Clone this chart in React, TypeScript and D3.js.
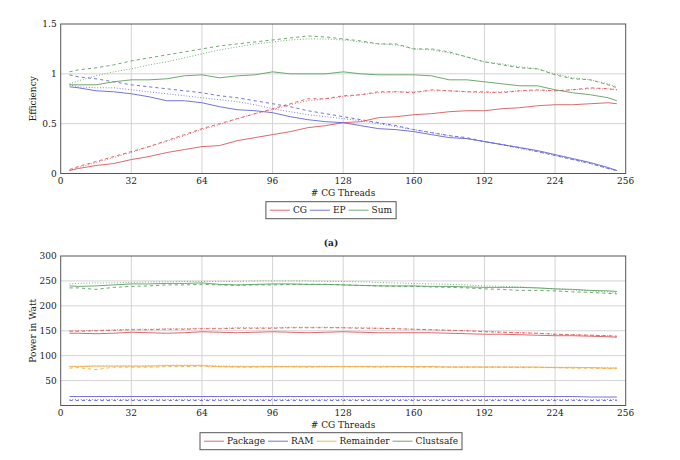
import { useRef, useEffect } from 'react';
import * as d3 from 'd3';

// thread counts sampled on both panels
const threads = [4, 8, 16, 24, 32, 40, 48, 56, 64, 72, 80, 88, 96, 104, 112, 120, 128, 136, 144, 152, 160, 168, 176, 184, 192, 200, 208, 216, 224, 232, 240, 248, 252];
const xTicks = [0, 32, 64, 96, 128, 160, 192, 224, 256];

// (a) efficiency
const cgSolid = [0.03, 0.05, 0.08, 0.10, 0.14, 0.17, 0.21, 0.24, 0.27, 0.28, 0.33, 0.36, 0.39, 0.42, 0.46, 0.48, 0.51, 0.52, 0.56, 0.57, 0.59, 0.60, 0.62, 0.63, 0.63, 0.65, 0.66, 0.68, 0.69, 0.69, 0.70, 0.71, 0.70];
const cgDashed = [0.04, 0.07, 0.12, 0.17, 0.22, 0.27, 0.33, 0.39, 0.45, 0.50, 0.55, 0.60, 0.65, 0.70, 0.75, 0.75, 0.78, 0.79, 0.82, 0.82, 0.81, 0.84, 0.83, 0.82, 0.82, 0.81, 0.83, 0.84, 0.83, 0.84, 0.86, 0.85, 0.84];
const cgDotted = [0.03, 0.06, 0.11, 0.16, 0.21, 0.27, 0.32, 0.38, 0.44, 0.49, 0.55, 0.60, 0.64, 0.69, 0.73, 0.75, 0.77, 0.79, 0.81, 0.82, 0.82, 0.83, 0.83, 0.82, 0.81, 0.82, 0.83, 0.83, 0.83, 0.84, 0.85, 0.85, 0.84];
const epSolid = [0.87, 0.86, 0.83, 0.82, 0.80, 0.77, 0.73, 0.73, 0.71, 0.67, 0.64, 0.63, 0.61, 0.57, 0.54, 0.52, 0.51, 0.48, 0.45, 0.44, 0.42, 0.39, 0.36, 0.35, 0.32, 0.29, 0.26, 0.23, 0.19, 0.15, 0.11, 0.06, 0.03];
const epDashed = [0.99, 0.97, 0.95, 0.92, 0.89, 0.87, 0.85, 0.83, 0.81, 0.78, 0.76, 0.73, 0.70, 0.67, 0.63, 0.60, 0.57, 0.54, 0.51, 0.48, 0.44, 0.41, 0.38, 0.36, 0.32, 0.29, 0.26, 0.22, 0.18, 0.14, 0.10, 0.05, 0.03];
const epDotted = [0.89, 0.87, 0.86, 0.86, 0.84, 0.82, 0.80, 0.78, 0.76, 0.74, 0.72, 0.69, 0.65, 0.62, 0.59, 0.57, 0.55, 0.53, 0.50, 0.47, 0.44, 0.41, 0.38, 0.35, 0.32, 0.29, 0.25, 0.22, 0.18, 0.14, 0.10, 0.05, 0.03];
const sumSolid = [0.89, 0.89, 0.89, 0.92, 0.94, 0.94, 0.95, 0.98, 0.99, 0.96, 0.98, 0.99, 1.02, 1.00, 1.00, 1.00, 1.02, 1.00, 0.99, 0.99, 0.99, 0.98, 0.94, 0.94, 0.92, 0.90, 0.88, 0.88, 0.84, 0.81, 0.79, 0.76, 0.73];
const sumDashed = [1.02, 1.04, 1.06, 1.09, 1.13, 1.16, 1.19, 1.22, 1.25, 1.28, 1.30, 1.32, 1.34, 1.36, 1.38, 1.37, 1.35, 1.33, 1.30, 1.30, 1.25, 1.25, 1.22, 1.17, 1.12, 1.09, 1.06, 1.05, 0.99, 0.95, 0.94, 0.89, 0.86];
const sumDotted = [0.90, 0.93, 0.98, 1.02, 1.05, 1.09, 1.12, 1.16, 1.20, 1.24, 1.27, 1.30, 1.32, 1.34, 1.35, 1.35, 1.34, 1.32, 1.30, 1.29, 1.25, 1.24, 1.21, 1.17, 1.12, 1.10, 1.07, 1.05, 1.00, 0.96, 0.94, 0.90, 0.87];

// (b) power in watt
const pkgSolid = [145, 145, 144, 145, 147, 146, 145, 146, 148, 147, 146, 147, 148, 147, 146, 147, 148, 147, 146, 146, 146, 146, 145, 144, 143, 143, 142, 141, 140, 140, 139, 138, 137];
const pkgDashed = [149, 149, 150, 151, 152, 152, 153, 153, 154, 154, 155, 155, 155, 156, 156, 156, 156, 155, 155, 154, 153, 152, 151, 150, 148, 147, 146, 145, 143, 142, 141, 140, 139];
const pkgDotted = [150, 150, 151, 152, 153, 153, 154, 154, 155, 155, 156, 156, 156, 157, 157, 157, 156, 156, 155, 154, 153, 152, 151, 150, 149, 147, 146, 145, 143, 142, 141, 140, 139];
const ramSolid = [18, 18, 18, 18, 18, 18, 18, 18, 18, 18, 18, 18, 18, 18, 18, 18, 18, 18, 18, 18, 18, 18, 18, 18, 18, 18, 18, 18, 18, 18, 17, 17, 17];
const ramDashed = [10, 10, 10, 10, 10, 10, 10, 10, 10, 10, 10, 10, 10, 10, 10, 10, 10, 10, 10, 10, 10, 10, 10, 10, 10, 10, 10, 10, 10, 10, 10, 10, 10];
const ramDotted = [12, 12, 12, 12, 12, 12, 12, 12, 12, 12, 12, 12, 12, 12, 12, 12, 12, 12, 12, 12, 12, 12, 12, 12, 12, 12, 12, 12, 12, 12, 12, 12, 12];
const remSolid = [78, 78, 79, 79, 79, 79, 80, 80, 80, 78, 78, 78, 78, 78, 78, 78, 78, 78, 78, 78, 78, 78, 77, 77, 77, 77, 77, 77, 76, 76, 76, 75, 75];
const remDashed = [75, 76, 72, 77, 77, 77, 78, 78, 79, 78, 77, 77, 78, 78, 77, 78, 78, 78, 77, 78, 77, 77, 77, 77, 77, 77, 76, 76, 76, 75, 75, 74, 74];
const remDotted = [79, 79, 80, 80, 80, 80, 81, 81, 81, 80, 79, 79, 79, 79, 79, 79, 79, 79, 79, 79, 78, 78, 78, 78, 78, 78, 78, 77, 77, 77, 76, 76, 76];
const csSolid = [240, 239, 240, 242, 244, 244, 245, 245, 246, 243, 242, 243, 244, 244, 243, 243, 242, 241, 240, 240, 240, 239, 239, 238, 237, 237, 237, 236, 234, 233, 231, 230, 229];
const csDashed = [236, 236, 233, 237, 239, 240, 242, 242, 243, 242, 241, 242, 242, 243, 243, 243, 242, 241, 240, 239, 239, 238, 237, 236, 234, 233, 231, 231, 230, 228, 227, 225, 224];
const csDotted = [244, 245, 246, 246, 247, 248, 248, 249, 249, 249, 249, 250, 250, 250, 250, 249, 249, 248, 247, 246, 245, 244, 243, 242, 240, 239, 238, 236, 234, 232, 230, 228, 226];

const effTicks = [0, 0.5, 1, 1.5];
const powerTicks = [50, 100, 150, 200, 250, 300];

const RED = '#d8595e';
const BLUE = '#6464d2';
const ORANGE = '#f2ac48';
const GREEN = '#5e9f62';
const DASH = '3.2,3';
const DOT = '0.9,1.9';
const FONT = "'DejaVu Serif', serif";
const FS = '9px';

const effSeries = [
  { name: 'CG', color: RED, sets: [cgSolid, cgDashed, cgDotted] },
  { name: 'EP', color: BLUE, sets: [epSolid, epDashed, epDotted] },
  { name: 'Sum', color: GREEN, sets: [sumSolid, sumDashed, sumDotted] },
];
const powerSeries = [
  { name: 'Package', color: RED, sets: [pkgSolid, pkgDashed, pkgDotted] },
  { name: 'RAM', color: BLUE, sets: [ramSolid, ramDashed, ramDotted] },
  { name: 'Remainder', color: ORANGE, sets: [remSolid, remDashed, remDotted] },
  { name: 'Clustsafe', color: GREEN, sets: [csSolid, csDashed, csDotted] },
];

const App = () => {
  const svgRef = useRef(null);

  function drawPanel(svg, cfg) {
    const { top, bottom, yDomain, yTicks, series, yLabel, legendTop } = cfg;
    const left = 60.7, right = 625.7;
    const x = d3.scaleLinear().domain([0, 256]).range([left, right]);
    const y = d3.scaleLinear().domain(yDomain).range([bottom, top]);
    const g = svg.append('g');

    // grid
    g.append('g').selectAll('line').data(xTicks.slice(1, -1)).join('line')
      .attr('x1', d => x(d)).attr('x2', d => x(d)).attr('y1', top).attr('y2', bottom)
      .attr('stroke', '#d4d4d4').attr('stroke-width', 1);
    g.append('g').selectAll('line').data(yTicks.filter(t => t > yDomain[0] && t < yDomain[1])).join('line')
      .attr('x1', left).attr('x2', right).attr('y1', d => y(d)).attr('y2', d => y(d))
      .attr('stroke', '#d4d4d4').attr('stroke-width', 1);

    // lines: dotted, dashed, solid
    const line = d3.line().x((_, i) => x(threads[i])).y(d => y(d));
    const dashes = [null, DASH, DOT];
    [2, 1, 0].forEach(k => {
      series.forEach(s => {
        g.append('path').datum(s.sets[k]).attr('d', line)
          .attr('fill', 'none').attr('stroke', s.color).attr('stroke-width', 0.9)
          .attr('stroke-dasharray', dashes[k]);
      });
    });

    // frame
    g.append('rect').attr('x', left).attr('y', top).attr('width', right - left).attr('height', bottom - top)
      .attr('fill', 'none').attr('stroke', '#555').attr('stroke-width', 1);

    // tick labels
    g.append('g').selectAll('text').data(xTicks).join('text')
      .attr('x', d => x(d)).attr('y', bottom + 10.5).attr('text-anchor', 'middle')
      .style('font-size', FS).style('font-family', FONT).attr('fill', '#222')
      .text(d => d);
    g.append('g').selectAll('text').data(yTicks).join('text')
      .attr('x', left - 4).attr('y', d => y(d) + 3.2).attr('text-anchor', 'end')
      .style('font-size', FS).style('font-family', FONT).attr('fill', '#222')
      .text(d => d);

    // axis titles
    g.append('text').attr('x', 343).attr('y', bottom + 22.5).attr('text-anchor', 'middle')
      .style('font-size', FS).style('font-family', FONT).attr('fill', '#222').text('# CG Threads');
    g.append('text').attr('transform', `translate(36,${(top + bottom) / 2}) rotate(-90)`)
      .attr('text-anchor', 'middle').style('font-size', FS).style('font-family', FONT)
      .attr('fill', '#222').text(yLabel);

    // legend
    const lg = g.append('g');
    const items = lg.selectAll('g').data(series).join('g');
    items.append('line').attr('stroke', d => d.color).attr('stroke-width', 0.9);
    items.append('text').style('font-size', FS).style('font-family', FONT).attr('fill', '#222')
      .text(d => d.name);
    let cx = 4;
    items.each(function () {
      const it = d3.select(this);
      it.select('line').attr('x1', cx).attr('x2', cx + 20).attr('y1', 0).attr('y2', 0);
      cx += 23;
      const tw = it.select('text').node().getComputedTextLength();
      it.select('text').attr('x', cx).attr('y', 3.2);
      cx += tw + 3;
    });
    const boxW = cx + 1;
    lg.insert('rect', ':first-child').attr('x', 0).attr('y', -8.5).attr('width', boxW).attr('height', 17)
      .attr('fill', 'white').attr('stroke', '#555').attr('stroke-width', 1);
    lg.attr('transform', `translate(${331 - boxW / 2},${legendTop + 8.5})`);
  }

  useEffect(() => {
    const svg = d3.select(svgRef.current);
    svg.selectAll('*').remove();
    drawPanel(svg, {
      top: 24, bottom: 173.5, yDomain: [0, 1.5], yTicks: effTicks, series: effSeries,
      yLabel: 'Efficiency', legendTop: 201.7,
    });
    svg.append('text').attr('x', 331).attr('y', 246).attr('text-anchor', 'middle')
      .style('font-size', FS).style('font-family', FONT).style('font-weight', 'bold')
      .attr('fill', '#222').text('(a)');
    drawPanel(svg, {
      top: 256, bottom: 405.5, yDomain: [0, 300], yTicks: powerTicks, series: powerSeries,
      yLabel: 'Power in Watt', legendTop: 432.7,
    });
  }, []);

  return (
    <div>
      <style>{`body{margin:0;background:#fff}`}</style>
      <svg ref={svgRef} width={680} height={460} style={{ display: 'block' }} />
    </div>
  );
};

export default App;
